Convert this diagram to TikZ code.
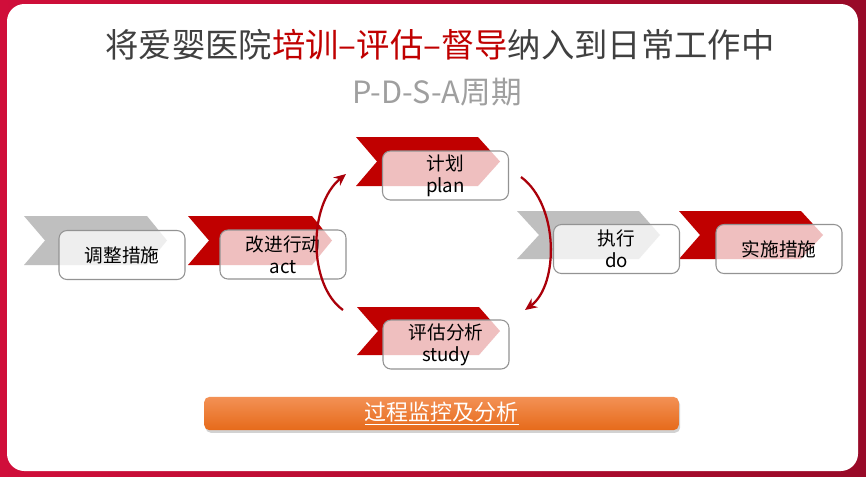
\documentclass[tikz,border=0pt]{standalone}
\usepackage{fontspec}
\setmainfont{Noto Sans CJK SC}
\usetikzlibrary{arrows.meta}
\usetikzlibrary{shadows}
\definecolor{chevred}{RGB}{192,0,0}
\definecolor{chevgray}{RGB}{191,191,191}
\definecolor{titlegray}{RGB}{64,64,64}
\definecolor{arcred}{RGB}{170,0,10}
\definecolor{framel}{RGB}{208,14,58}
\definecolor{framer}{RGB}{152,10,40}
\definecolor{barlight}{RGB}{243,145,85}
\definecolor{bardark}{RGB}{230,106,26}

\begin{document}
\begin{tikzpicture}[x=0.75pt, y=-0.75pt,
  stagebox/.style={draw=gray!85, line width=0.8pt, rounded corners=6pt, fill=white, fill opacity=0.75,
    text opacity=1, minimum width=94.5pt, minimum height=36.75pt, inner sep=0pt, align=center,
    font=\fontsize{14}{16.5}\selectfont},
  cyclearc/.style={arcred, line width=1.7pt, -{Stealth[length=9pt, width=8pt]}}]

% Frame and white page
\shade[left color=framel, right color=framer] (0,0) rectangle (866,476);
\fill[white, rounded corners=13pt] (7,4) rectangle (858,471);

% Title
\node[font=\fontsize{25}{30}\selectfont, text=titlegray] (title) at (440,45)
  {将爱婴医院\textcolor{chevred}{培训–评估–督导}纳入到日常工作中};
\node[font=\fontsize{23}{28}\selectfont, text=gray!75] (subtitle) at (437,92) {P-D-S-A周期};

% Chevrons
\fill[chevgray] (24,216) -- (147,216) -- (167,240.5) -- (147,265) -- (24,265) -- (45,240.5) -- cycle;
\fill[chevred] (188,216) -- (312,216) -- (332,240.5) -- (312,265) -- (188,265) -- (209,240.5) -- cycle;
\fill[chevred] (356,137) -- (478,137) -- (500,161.5) -- (478,186) -- (356,186) -- (377,161.5) -- cycle;
\fill[chevred] (357,307) -- (479,307) -- (500,331) -- (479,355) -- (357,355) -- (378,331) -- cycle;
\fill[chevgray] (517,211) -- (639,211) -- (660,235) -- (639,259) -- (517,259) -- (539,235) -- cycle;
\fill[chevred] (679,211) -- (801,211) -- (823,235) -- (801,259) -- (679,259) -- (700,235) -- cycle;

% Stage boxes
\node[stagebox] (adjust) at (122,255) {调整措施};
\node[stagebox] (act) at (283,254.5) {改进行动\\act};
\node[stagebox] (plan) at (445.5,175.5) {计划\\plan};
\node[stagebox] (study) at (446,344.5) {评估分析\\study};
\node[stagebox] (do) at (616.5,249) {执行\\do};
\node[stagebox] (implement) at (779,249) {实施措施};

% Cycle arcs
\coordinate (leftfoot) at (343,310);
\coordinate (lefthead) at (346,174);
\coordinate (rightfoot) at (521,177);
\coordinate (righthead) at (525,310);
\draw[cyclearc] (leftfoot) .. controls (308,285) and (308,205) .. (lefthead);
\draw[cyclearc] (rightfoot) .. controls (559,205) and (559,285) .. (righthead);

% Monitoring bar
\node[rounded corners=4pt, top color=barlight, bottom color=bardark, minimum width=356pt, minimum height=25pt,
  drop shadow={opacity=0.35, shadow xshift=1pt, shadow yshift=-2pt}, text=white,
  font=\fontsize{16.5}{20}\selectfont] (monitor) at (441.5,413.5) {\underline{过程监控及分析}};

\end{tikzpicture}
\end{document}
